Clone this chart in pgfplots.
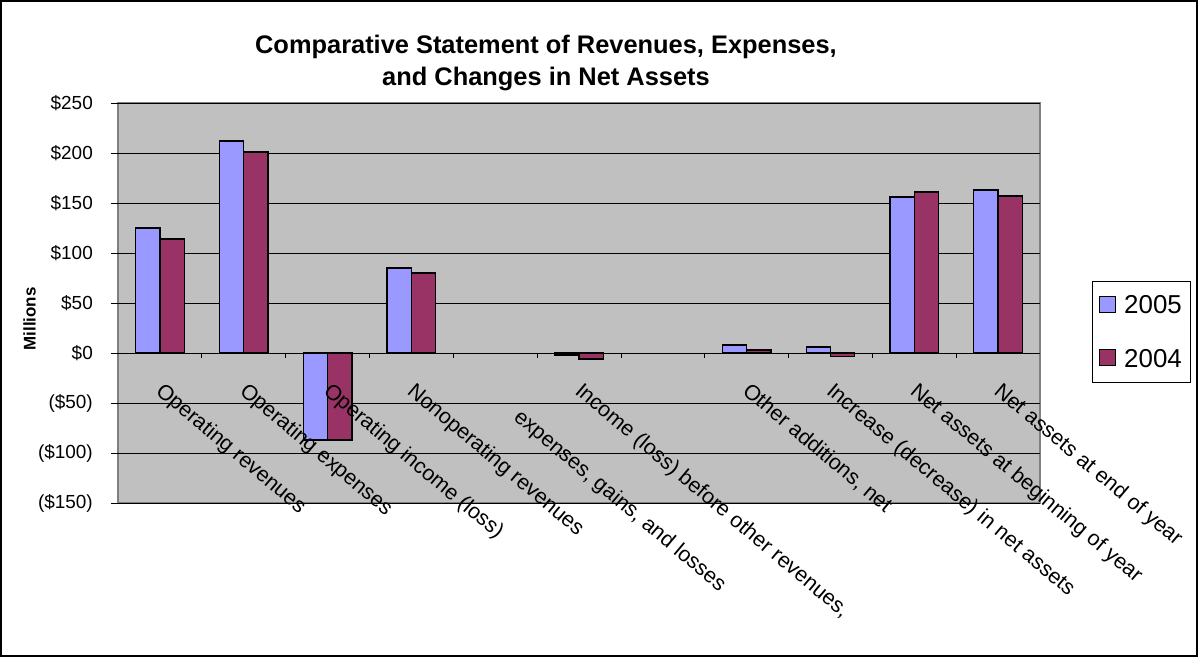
\documentclass[border=0pt]{standalone}
\usepackage{pgfplots}
\pgfplotsset{compat=1.18}
\usepackage{fontspec}
\setmainfont{Liberation Sans}

\definecolor{cA}{HTML}{9999FF}
\definecolor{cB}{HTML}{993366}
\definecolor{plotbg}{HTML}{C0C0C0}
\definecolor{frame}{HTML}{808080}

\newcommand{\lbl}{\fontsize{21.5}{24}\selectfont}

\begin{document}
\begin{tikzpicture}[x=1bp,y=1bp]
\useasboundingbox (0,0) rectangle (1198,657);
\draw[black, line width=1.2bp] (1,1) rectangle (1197,656);
\node[font=\fontsize{25.5}{33}\selectfont\bfseries, align=center] at (546,594)
  {Comparative Statement of Revenues, Expenses,\\and Changes in Net Assets};

\begin{axis}[
    at={(118bp,154bp)}, anchor=south west,
    scale only axis, width=922bp, height=400bp,
    xmin=0.5, xmax=11.5,
    ymin=-150, ymax=250,
    axis background/.style={fill=plotbg, draw=frame, line width=1.8bp},
    axis line style={draw=none},
    xtick=\empty,
    ytick={-150,-100,...,250},
    yticklabels={(\$150),(\$100),(\$50),\$0,\$50,\$100,\$150,\$200,\$250},
    ytick pos=left, ytick align=outside,
    major tick length=7bp,
    tick style={black, line width=0.8bp},
    yticklabel style={font=\fontsize{19}{22}\selectfont, inner sep=0pt, anchor=east, xshift=-18bp},
    ymajorgrids,
    major grid style={black, line width=0.8bp},
    ylabel={Millions},
    ylabel style={font=\fontsize{17}{20}\selectfont\bfseries, at={(axis description cs:-0.096,0.46)}, anchor=center},
    clip=false,
    legend style={at={(axis description cs:1.056,0.555)}, anchor=north west,
        draw=black, line width=0.8bp, inner xsep=7bp, inner ysep=12bp,
        row sep=30bp, font=\fontsize{26}{26}\selectfont,
        /tikz/every odd column/.append style={column sep=6bp}},
    legend cell align=left,
    legend image code/.code={\draw[#1, draw=black, line width=1.2bp] (0bp,-7bp) rectangle (16bp,9bp);},
]

% 2005
\addplot[ybar, bar width=0.29, bar shift=-0.145, fill=cA, draw=black, line width=1.3bp]
    coordinates {(1,125) (2,212) (3,-87) (4,85) (6,-2) (8,8) (9,6) (10,156) (11,163)};
% 2004
\addplot[ybar, bar width=0.29, bar shift=0.145, fill=cB, draw=black, line width=1.3bp]
    coordinates {(1,114) (2,201) (3,-87) (4,80) (6,-6) (8,3) (9,-3.5) (10,161) (11,157)};

\legend{2005, 2004}

% category axis at zero
\draw[black, line width=0.8bp] (axis cs:0.5,0) -- (axis cs:11.5,0);
\pgfplotsinvokeforeach{1.5,2.5,...,10.5}{
    \draw[black, line width=0.8bp] (axis cs:#1,0) -- ++(0bp,-5bp);
}

% category labels
\begin{scope}[every node/.style={rotate=-40, anchor=north west, inner sep=0pt, font=\lbl}]
\node at (axis cs:1.06,-28) {Operating revenues};
\node at (axis cs:2.06,-28) {Operating expenses};
\node at (axis cs:3.06,-28) {Operating income (loss)};
\node at (axis cs:4.06,-28) {Nonoperating revenues};
\node at (axis cs:6.06,-28) {Income (loss) before other revenues,};
\node at (axis cs:5.33,-54) {expenses, gains, and losses};
\node at (axis cs:8.06,-28) {Other additions, net};
\node at (axis cs:9.06,-28) {Increase (decrease) in net assets};
\node at (axis cs:10.06,-28) {Net assets at beginning of year};
\node at (axis cs:11.06,-28) {Net assets at end of year};
\end{scope}

\end{axis}
\end{tikzpicture}
\end{document}
